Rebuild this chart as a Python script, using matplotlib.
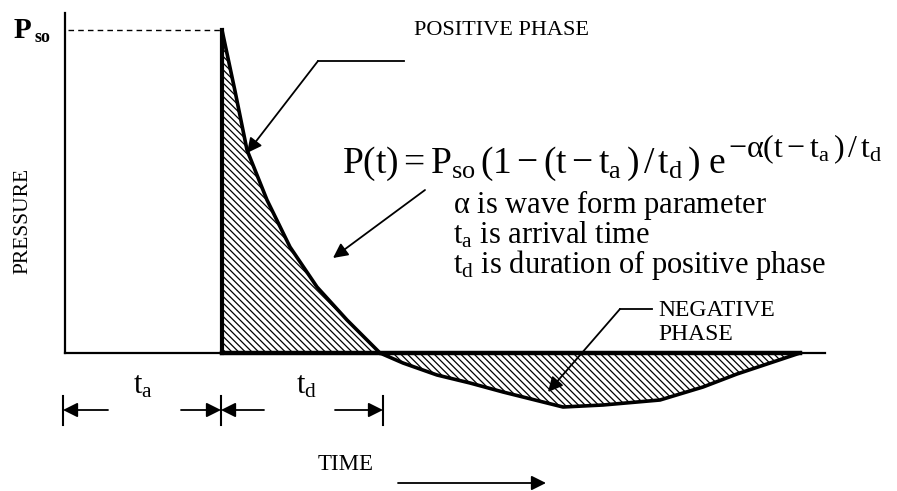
import matplotlib.pyplot as plt
import numpy as np

plt.rcParams['font.family'] = ['Liberation Serif', 'DejaVu Serif']
plt.rcParams['mathtext.fontset'] = 'custom'
plt.rcParams['mathtext.rm'] = 'Liberation Serif'
plt.rcParams['mathtext.it'] = 'Liberation Serif:italic'
plt.rcParams['hatch.linewidth'] = 0.9

# time axis in drawing units, pressure measured up from the baseline
t_start = 65
t_end = 825
t_arrival = 222
t_positive_end = 380
t_negative_end = 800
p_so = 323
p_top = 340

# positive phase (decaying curve) and negative phase (undershoot)
pos_t = [222, 235, 247, 267, 290, 317, 347, 365, 380]
pos_p = [323, 262, 203, 153, 106, 66, 33, 15, 0]
neg_t = [380, 403, 437, 470, 503, 563, 603, 660, 703, 737, 770, 800]
neg_p = [0, -10, -22, -30, -39, -54, -52, -47, -34, -21, -10, 0]

notes = ['$\\mathrm{\\alpha}$ is wave form parameter',
         '$\\mathrm{t_a}$ is arrival time',
         '$\\mathrm{t_d}$ is duration of positive phase']

fig = plt.figure(figsize=(8.97, 4.91), dpi=100)
ax = fig.add_axes([0, 0, 1, 1])
ax.set_xlim(0, 897)
ax.set_ylim(353 - 491, 353 - 0)
ax.axis('off')

# axes of the diagram
ax.plot([t_start, t_start], [0, p_top], color='black', lw=1.6)
ax.plot([t_start, t_end], [0, 0], color='black', lw=1.6)
ax.plot([t_start + 3, t_arrival], [p_so, p_so], color='black', lw=1.0,
        dashes=(4, 3))

# hatched areas
ax.fill(list(pos_t) + [t_arrival], list(pos_p) + [0], facecolor='white',
        edgecolor='black', hatch='\\\\\\\\\\', lw=0)
ax.fill(neg_t, neg_p, facecolor='white', edgecolor='black',
        hatch='\\\\\\\\\\', lw=0)

# pressure history outline
ax.plot([t_arrival, t_arrival], [0, p_so], color='black', lw=3)
ax.plot(pos_t, pos_p, color='black', lw=2.6, solid_joinstyle='round')
ax.plot(neg_t, neg_p, color='black', lw=2.6, solid_joinstyle='round')
ax.plot([t_arrival, t_negative_end], [0, 0], color='black', lw=3.2)

arrow = dict(arrowstyle='-|>', color='black', lw=1.3, mutation_scale=22,
             shrinkA=0, shrinkB=0)

# labels with leader arrows
ax.text(501, 323, 'POSITIVE PHASE', fontsize=16, ha='center', va='center')
ax.plot([404, 318], [292, 292], color='black', lw=1.3)
ax.annotate('', xy=(247, 200), xytext=(318, 292), arrowprops=arrow)

# equation: body plus a larger exponent placed right after the "e"
eq = ax.text(342, 180,
             r'$\mathrm{P(t) = P_{so}\,(1-(t-t_a\,)\,/\,t_d\,)\ e}$',
             fontsize=27, ha='left', va='baseline')
fig.canvas.draw()
bb = eq.get_window_extent().transformed(ax.transData.inverted())
ax.text(bb.x1 + 2, 196,
        r'$\mathrm{-\alpha(t-t_a\,)\,/\,t_d}$',
        fontsize=23, ha='left', va='baseline')
ax.annotate('', xy=(333, 95), xytext=(425, 163), arrowprops=arrow)

for i, line in enumerate(notes):
    ax.text(453, 148 - 30 * i, line, fontsize=22, ha='left', va='center')

ax.text(658, 43, 'NEGATIVE', fontsize=17, ha='left', va='center')
ax.text(658, 18, 'PHASE', fontsize=17, ha='left', va='center')
ax.plot([652, 620], [44, 44], color='black', lw=1.3)
ax.annotate('', xy=(548, -39), xytext=(620, 44), arrowprops=arrow)

ax.text(22, p_so, 'P', fontsize=21, ha='center', va='center',
        fontweight='bold')
ax.text(42, p_so - 7, 'so', fontsize=13, ha='center', va='center',
        fontweight='bold')
ax.text(23, 132, 'PRESSURE', fontsize=15.5, rotation=90, ha='center',
        va='center')

# duration markers below the time axis
dim_y = -57
for x in [63, 221, 383]:
    ax.plot([x, x], [dim_y + 14, dim_y - 15], color='black', lw=1.5)
ax.annotate('', xy=(63, dim_y), xytext=(108, dim_y), arrowprops=arrow)
ax.annotate('', xy=(221, dim_y), xytext=(181, dim_y), arrowprops=arrow)
ax.annotate('', xy=(221, dim_y), xytext=(264, dim_y), arrowprops=arrow)
ax.annotate('', xy=(383, dim_y), xytext=(335, dim_y), arrowprops=arrow)
ax.text(143, -33, r'$\mathrm{t_a}$', fontsize=22, ha='center', va='center')
ax.text(307, -33, r'$\mathrm{t_d}$', fontsize=22, ha='center', va='center')

ax.text(346, -111, 'TIME', fontsize=16.5, ha='center', va='center')
ax.annotate('', xy=(546, -130), xytext=(398, -130), arrowprops=arrow)

fig.savefig('out.png', dpi=100)
